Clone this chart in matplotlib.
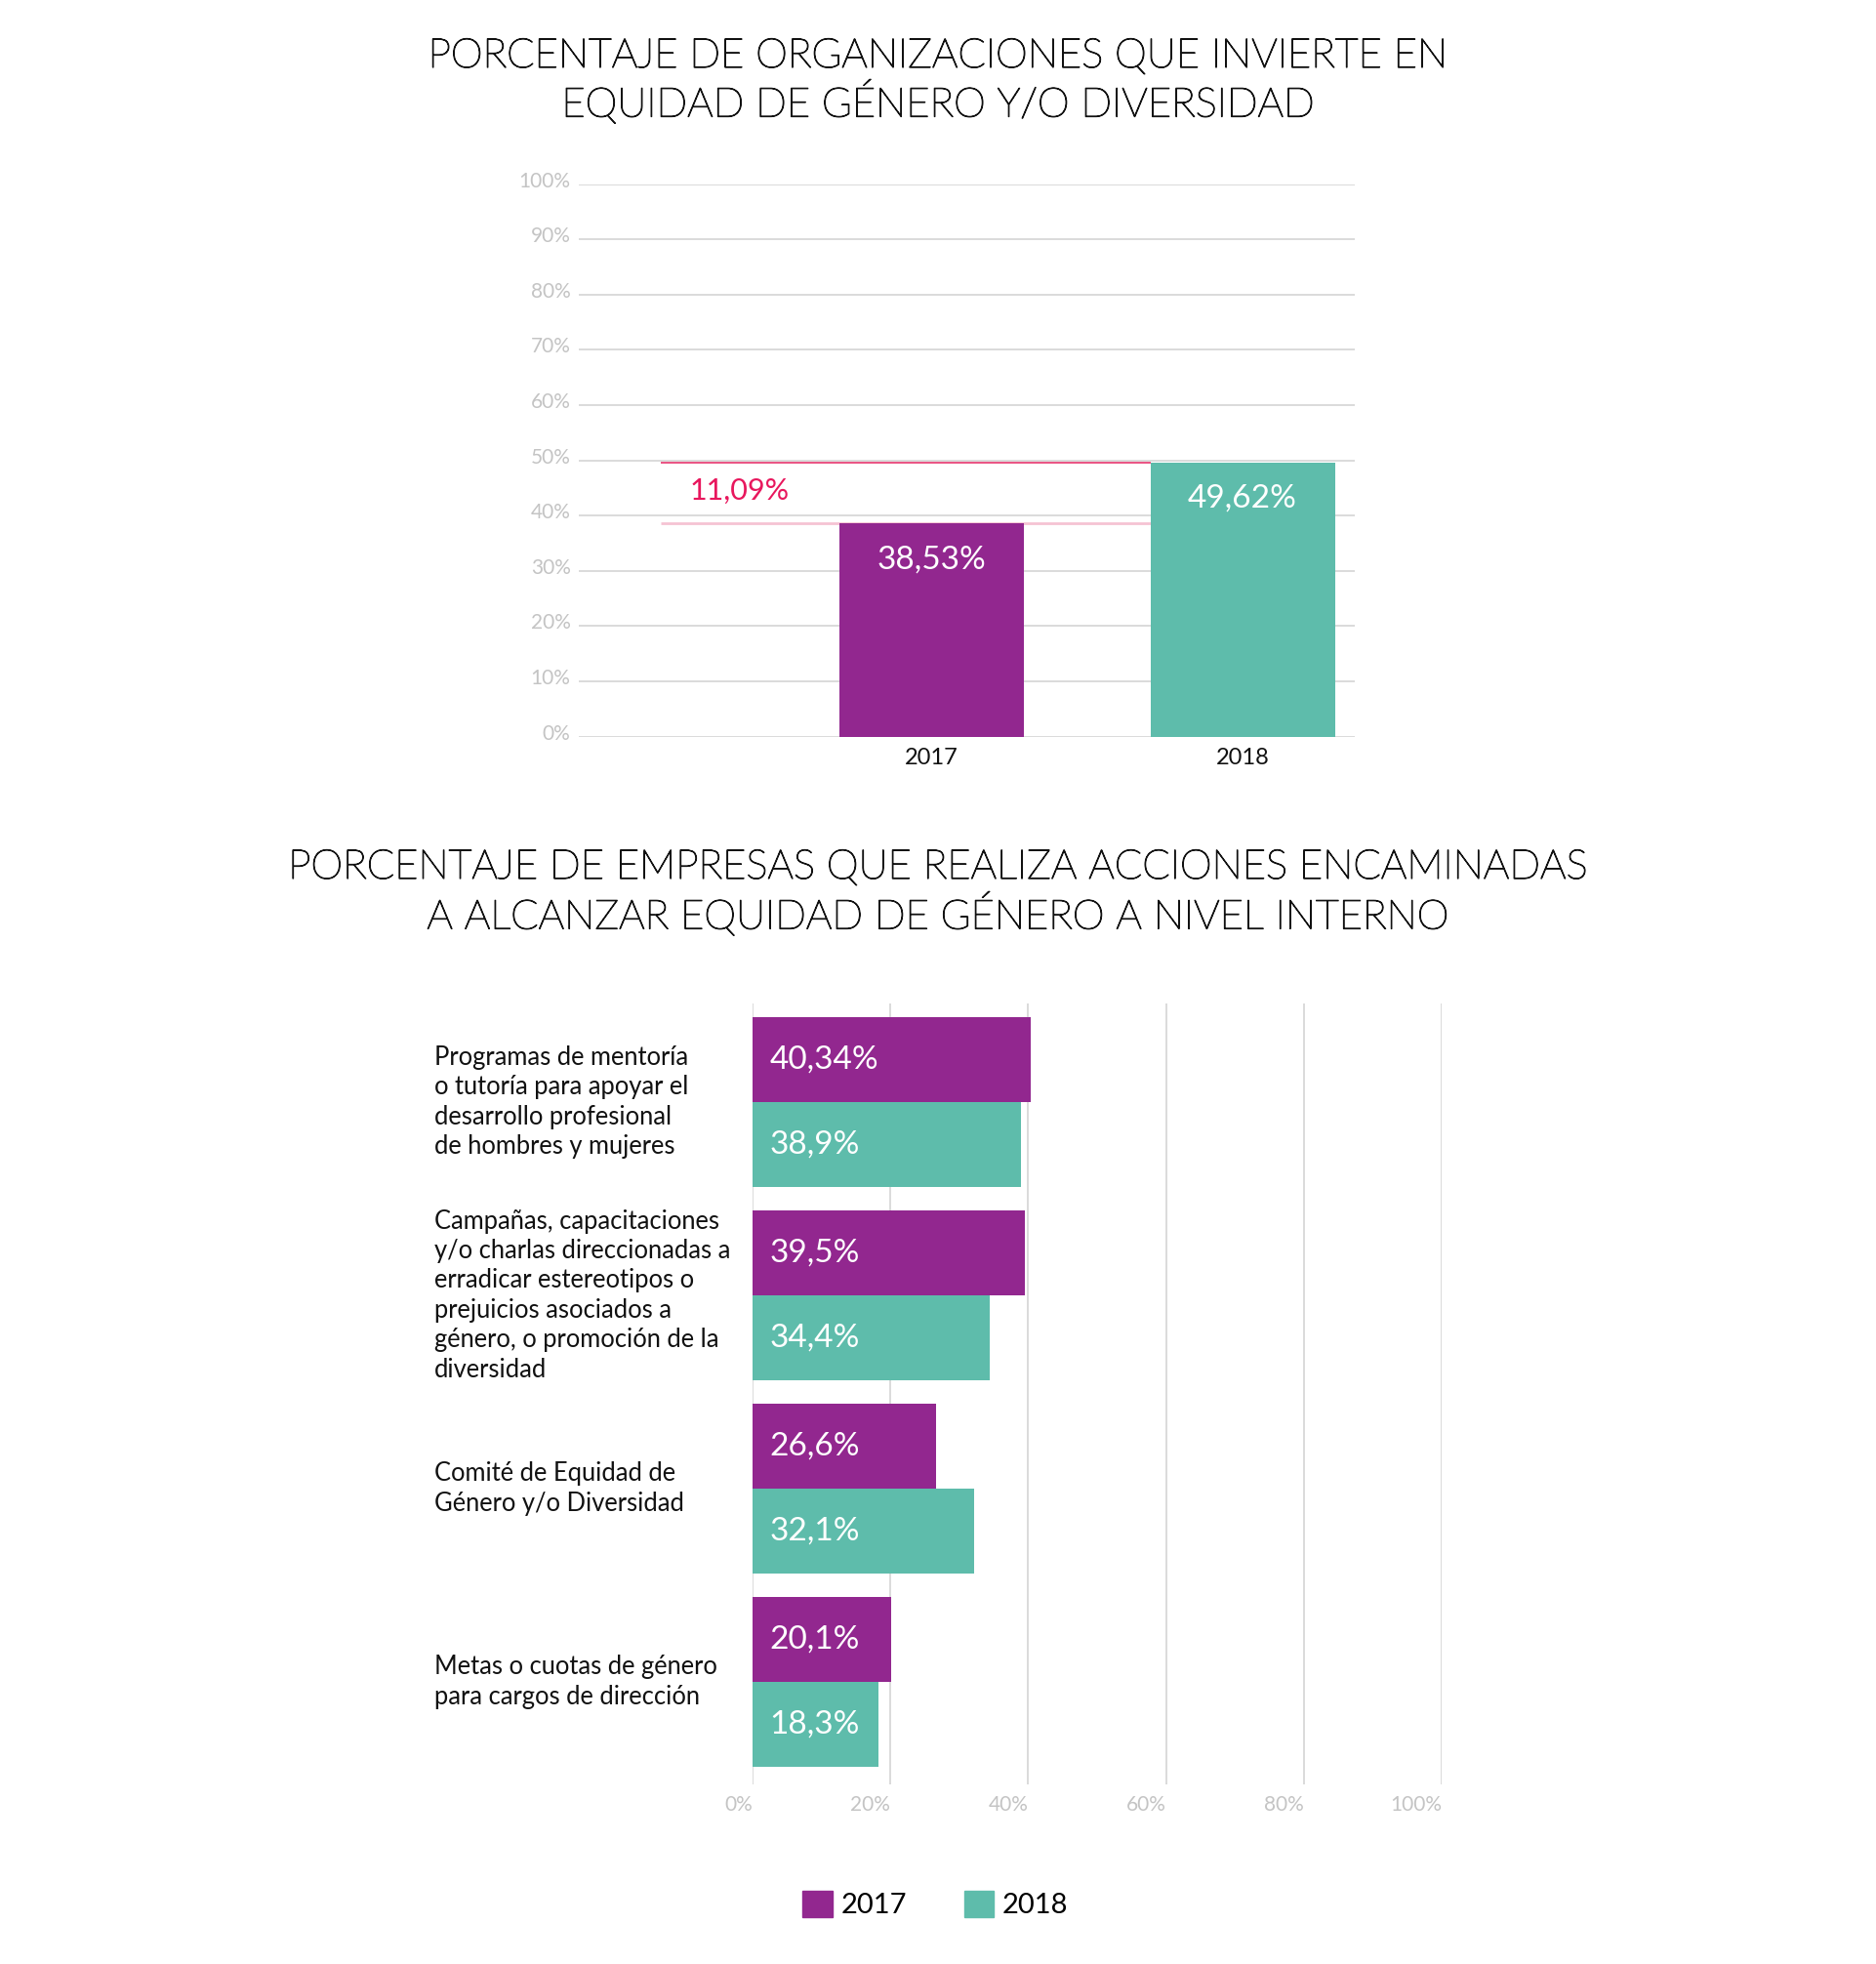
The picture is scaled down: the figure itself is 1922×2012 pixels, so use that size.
import matplotlib
matplotlib.use("Agg")
import matplotlib.pyplot as plt
import matplotlib.patheffects as pe
from matplotlib.patches import Patch
from matplotlib.transforms import ScaledTranslation

plt.rcParams['font.family'] = ['Lato', 'DejaVu Sans']

PURPLE = '#92278f'
TEAL = '#5ebcab'
GRID = '#dadada'
TICK = '#c4c4c4'

# --- datos ---
years = ['2017', '2018']
inversion = [38.53, 49.62]
diferencia_label = '11,09%'
inversion_labels = ['38,53%', '49,62%']

acciones = [
    'Programas de mentoría\no tutoría para apoyar el\ndesarrollo profesional\nde hombres y mujeres',
    'Campañas, capacitaciones\ny/o charlas direccionadas a\nerradicar estereotipos o\nprejuicios asociados a\ngénero, o promoción de la\ndiversidad',
    'Comité de Equidad de\nGénero y/o Diversidad',
    'Metas o cuotas de género\npara cargos de dirección',
]
acc_2017 = [40.34, 39.5, 26.6, 20.1]
acc_2018 = [38.9, 34.4, 32.1, 18.3]
acc_2017_labels = ['40,34%', '39,5%', '26,6%', '20,1%']
acc_2018_labels = ['38,9%', '34,4%', '32,1%', '18,3%']

fig = plt.figure(figsize=(19.22, 20.12), dpi=100)
# titulo fino pero oscuro: Lato Light con un trazo leve
title_kw = dict(ha='center', va='center', fontsize=30, fontweight='light', color='#111111',
                path_effects=[pe.withStroke(linewidth=0.9, foreground='#111111')])

# ---------- grafico 1 ----------
fig.text(0.5, 1 - 58 / 2012, 'PORCENTAJE DE ORGANIZACIONES QUE INVIERTE EN', **title_kw)
fig.text(0.5, 1 - 105 / 2012, 'EQUIDAD DE GÉNERO Y/O DIVERSIDAD', **title_kw)

ax1 = fig.add_axes([0.3085, 0.625, 0.4137, 0.2813])
xs = [0, 1]
bw = 0.593
ax1.bar(xs, inversion, width=bw, color=[PURPLE, TEAL], zorder=3)
ax1.set_xlim(-1.135, 1.361)
ax1.set_ylim(0, 100)
ax1.set_yticks(range(0, 101, 10))
ax1.set_yticklabels([f'{v}%' for v in range(0, 101, 10)])
ax1.yaxis.grid(True, color=GRID, lw=1.4)
ax1.set_axisbelow(True)
ax1.set_xticks(xs)
ax1.set_xticklabels(years, fontsize=17, color='#111111')
ax1.tick_params(axis='both', length=0)
ax1.tick_params(axis='y', labelsize=15, labelcolor=TICK, pad=6)
ax1.tick_params(axis='x', pad=8)
for lab in ax1.get_yticklabels():
    lab.set_transform(lab.get_transform() + ScaledTranslation(0, 0.05, fig.dpi_scale_trans))
for s in ax1.spines.values():
    s.set_visible(False)

x_start = -0.871
x_end = 1 - bw / 2
ax1.hlines(inversion[1], x_start, x_end, color='#e8457a', lw=1.3, zorder=2)
ax1.hlines(inversion[0], x_start, x_end, color='#f5c3d3', lw=2, zorder=2)
ax1.text(-0.777, 44.4, diferencia_label, color='#e8175d', fontsize=22,
         ha='left', va='center')
for x, v, lab in zip(xs, inversion, inversion_labels):
    ax1.text(x, v - 6.5, lab, color='white', fontsize=24, ha='center', va='center', zorder=4)

# ---------- grafico 2 ----------
fig.text(0.5, 1 - 889 / 2012, 'PORCENTAJE DE EMPRESAS QUE REALIZA ACCIONES ENCAMINADAS', **title_kw)
fig.text(0.5, 1 - 937 / 2012, 'A ALCANZAR EQUIDAD DE GÉNERO A NIVEL INTERNO', **title_kw)

ax2 = fig.add_axes([0.4011, 0.0915, 0.3674, 0.3975])
ys = list(range(len(acciones)))
h = 0.4375
ax2.barh([y - h / 2 for y in ys], acc_2017, height=h, color=PURPLE, zorder=3)
ax2.barh([y + h / 2 for y in ys], acc_2018, height=h, color=TEAL, zorder=3)
ax2.set_xlim(0, 100)
ax2.set_ylim(3.53, -0.51)
ax2.set_xticks(range(0, 101, 20))
ax2.set_xticklabels([])
ax2.xaxis.grid(True, color=GRID, lw=1.4)
ax2.set_axisbelow(True)
ax2.set_yticks([])
ax2.tick_params(length=0)
for s in ax2.spines.values():
    s.set_visible(False)

for v in range(0, 101, 20):
    ax2.annotate(f'{v}%', xy=(v, 0), xycoords=('data', 'axes fraction'),
                 xytext=(0, -15), textcoords='offset points',
                 ha='right', va='center', fontsize=15, color=TICK)

for y, l17, l18 in zip(ys, acc_2017_labels, acc_2018_labels):
    ax2.text(2.5, y - h / 2, l17, color='white', fontsize=24, ha='left', va='center', zorder=4)
    ax2.text(2.5, y + h / 2, l18, color='white', fontsize=24, ha='left', va='center', zorder=4)
    ax2.annotate(acciones[y], xy=(0, y), xycoords=('axes fraction', 'data'),
                 xytext=(-(771 - 445) * 0.72, 0), textcoords='offset points',
                 ha='left', va='center', fontsize=18.4, color='#111111', linespacing=1.27)

fig.legend(handles=[Patch(color=PURPLE, label='2017'), Patch(color=TEAL, label='2018')],
           loc='center', bbox_to_anchor=(0.4987, 0.0303), ncol=2, frameon=False,
           fontsize=21, handlelength=1.05, handleheight=1.05, handletextpad=0.3,
           columnspacing=2.0)

fig.savefig('out.png', dpi=100, facecolor='white')
